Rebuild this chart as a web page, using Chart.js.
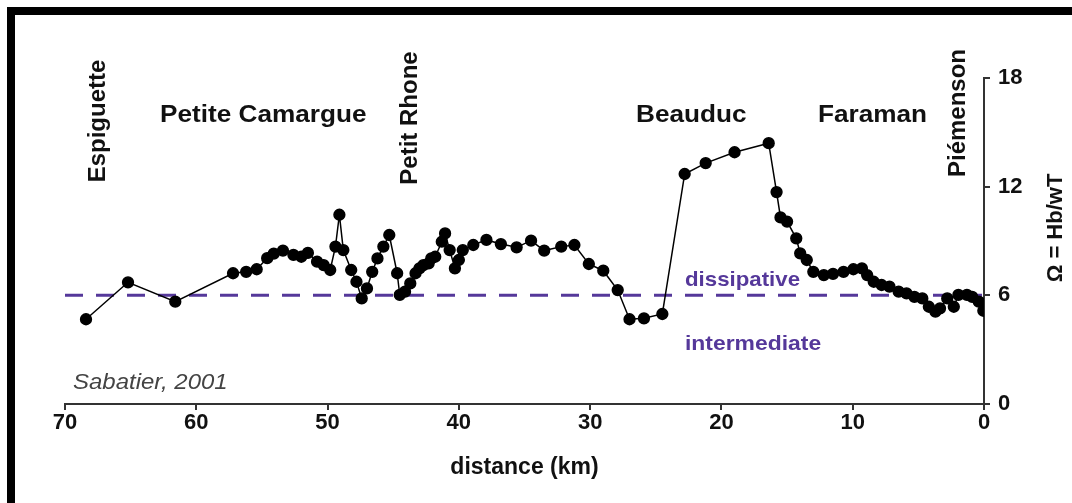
<!DOCTYPE html>
<html>
<head>
<meta charset="utf-8">
<script src="https://cdn.jsdelivr.net/npm/chart.js@4"></script>
<style>
  html, body { margin: 0; padding: 0; background: #fff; }
  #wrap { width: 1072px; height: 503px; position: relative; }
</style>
</head>
<body>
<div id="wrap"><canvas id="c" width="1072" height="503"></canvas></div>
<script>
// distance along the coast (km) and Omega = Hb/wT values
const distanceKm = [68.4, 65.2, 61.6, 57.2, 56.2, 55.4, 54.6, 54.1, 53.4, 52.6, 52.0, 51.5, 50.8, 50.3, 49.8,
  49.4, 49.1, 48.8, 48.2, 47.8, 47.4, 47.0, 46.6, 46.2, 45.75, 45.3, 44.7, 44.5, 44.1, 43.7, 43.3, 43.0, 42.7,
  42.3, 42.1, 41.8, 41.3, 41.05, 40.7, 40.3, 40.0, 39.7, 38.9, 37.9, 36.8, 35.6, 34.5, 33.5, 32.2, 31.2, 30.1,
  29.0, 27.9, 27.0, 25.9, 24.5, 22.8, 21.2, 19.0, 16.4, 15.8, 15.5, 15.0, 14.3, 14.0, 13.5, 13.0, 12.2, 11.5,
  10.7, 9.95, 9.3, 8.9, 8.4, 7.8, 7.2, 6.5, 5.9, 5.3, 4.7, 4.2, 3.7, 3.35, 2.8, 2.3, 1.95, 1.3, 0.9, 0.4, 0.05];
const omegaValues = [4.68, 6.72, 5.65, 7.22, 7.30, 7.44, 8.05, 8.30, 8.47, 8.23, 8.13, 8.34, 7.86, 7.67, 7.40,
  8.69, 10.45, 8.50, 7.40, 6.75, 5.83, 6.38, 7.30, 8.04, 8.69, 9.33, 7.22, 6.02, 6.20, 6.66, 7.22, 7.49, 7.67,
  7.77, 8.04, 8.13, 8.96, 9.42, 8.50, 7.49, 7.95, 8.50, 8.78, 9.06, 8.83, 8.65, 9.02, 8.47, 8.69, 8.78, 7.73,
  7.36, 6.29, 4.68, 4.73, 4.97, 12.7, 13.3, 13.9, 14.4, 11.7, 10.3, 10.07, 9.15, 8.32, 7.95, 7.30, 7.12, 7.18,
  7.30, 7.44, 7.49, 7.12, 6.75, 6.57, 6.48, 6.20, 6.11, 5.92, 5.83, 5.37, 5.10, 5.28, 5.83, 5.37, 6.02, 6.02,
  5.92, 5.65, 5.15];
// threshold between dissipative and intermediate beaches
const thresholdKm = [70, 0];
const thresholdOmega = [6, 6];
// axis ticks
const xTicks = [70, 60, 50, 40, 30, 20, 10, 0];
const yTicks = [0, 6, 12, 18];
// site names along the coast
const siteLabels = ['Espiguette', 'Petite Camargue', 'Petit Rhone', 'Beauduc', 'Faraman', 'Piémenson'];

const FONT = '"Liberation Sans", Arial, sans-serif';
const PURPLE = '#55389a';

const profile = distanceKm.map((d, i) => ({ x: d, y: omegaValues[i] }));
const threshold = thresholdKm.map((d, i) => ({ x: d, y: thresholdOmega[i] }));

const annotations = {
  id: 'annotations',
  beforeDraw(chart) {
    const ctx = chart.ctx;
    ctx.save();
    ctx.fillStyle = '#fff';
    ctx.fillRect(0, 0, chart.width, chart.height);
    ctx.fillStyle = '#000';
    ctx.fillRect(7, 7, chart.width - 7, 8);
    ctx.fillRect(7, 7, 8, chart.height - 7);
    ctx.restore();
  },
  afterDraw(chart) {
    const ctx = chart.ctx;
    const ys = chart.scales.y;
    ctx.save();
    const hText = (txt, x, y, sx) => {
      ctx.save();
      ctx.translate(x, y);
      ctx.scale(sx, 1);
      ctx.fillText(txt, 0, 0);
      ctx.restore();
    };
    const vert = (txt, x, y) => {
      ctx.save();
      ctx.translate(x, y);
      ctx.rotate(-Math.PI / 2);
      ctx.textAlign = 'center';
      ctx.fillText(txt, 0, 0);
      ctx.restore();
    };
    ctx.fillStyle = '#111';
    ctx.font = 'bold 24px ' + FONT;
    ctx.textBaseline = 'alphabetic';
    ctx.textAlign = 'left';
    hText(siteLabels[1], 160, 122, 1.09);
    hText(siteLabels[3], 636, 122, 1.09);
    hText(siteLabels[4], 818, 122, 1.09);
    vert(siteLabels[0], 105, 121);
    vert(siteLabels[2], 417, 118);
    vert(siteLabels[5], 965, 113);
    // y axis title
    ctx.font = 'bold 22px ' + FONT;
    vert('\u03A9 = Hb/wT', 1062, 228);
    // regime labels
    ctx.fillStyle = PURPLE;
    ctx.font = 'bold 21px ' + FONT;
    ctx.textAlign = 'left';
    ctx.textBaseline = 'middle';
    hText('dissipative', 685, ys.getPixelForValue(6) - 15, 1.06);
    hText('intermediate', 685, ys.getPixelForValue(6) + 49, 1.09);
    // source
    ctx.fillStyle = '#444';
    ctx.font = 'italic 22px ' + FONT;
    hText('Sabatier, 2001', 73, 383, 1.09);
    ctx.restore();
  }
};

new Chart(document.getElementById('c'), {
  type: 'scatter',
  data: {
    datasets: [
      {
        label: 'threshold',
        data: threshold,
        showLine: true,
        borderColor: PURPLE,
        borderWidth: 3,
        borderDash: [18, 13],
        pointRadius: 0,
        order: 2
      },
      {
        label: 'Omega',
        data: profile,
        showLine: true,
        borderColor: '#000',
        borderWidth: 1.5,
        backgroundColor: '#000',
        pointBackgroundColor: '#000',
        pointBorderColor: '#000',
        pointRadius: 5.4,
        tension: 0,
        order: 1
      }
    ]
  },
  options: {
    responsive: false,
    animation: false,
    events: [],
    layout: { padding: { left: 65, top: 78, right: 0, bottom: 0 } },
    plugins: { legend: { display: false }, tooltip: { enabled: false } },
    scales: {
      x: {
        type: 'linear',
        position: 'bottom',
        reverse: true,
        min: 0,
        max: 70,
        afterBuildTicks: (s) => { s.ticks = xTicks.map(v => ({ value: v })); },
        afterFit: (s) => { s.height = 99; },
        border: { display: true, color: '#333', width: 2 },
        grid: { display: true, drawOnChartArea: false, drawTicks: true, tickLength: 6, color: '#333', lineWidth: 2 },
        ticks: { color: '#111', font: { family: FONT, size: 22, weight: 'bold' }, padding: 0, maxRotation: 0 },
        title: { display: true, text: 'distance (km)', color: '#111',
          font: { family: FONT, size: 23, weight: 'bold' }, padding: { top: 0, bottom: 22 } }
      },
      y: {
        type: 'linear',
        position: 'right',
        min: 0,
        max: 18,
        afterBuildTicks: (s) => { s.ticks = yTicks.map(v => ({ value: v })); },
        afterFit: (s) => { s.width = 88; },
        border: { display: true, color: '#333', width: 2 },
        grid: { display: true, drawOnChartArea: false, drawTicks: true, tickLength: 6, color: '#333', lineWidth: 2 },
        ticks: { color: '#111', font: { family: FONT, size: 22, weight: 'bold' }, padding: 8 }
      }
    }
  },
  plugins: [annotations]
});
</script>
</body>
</html>
